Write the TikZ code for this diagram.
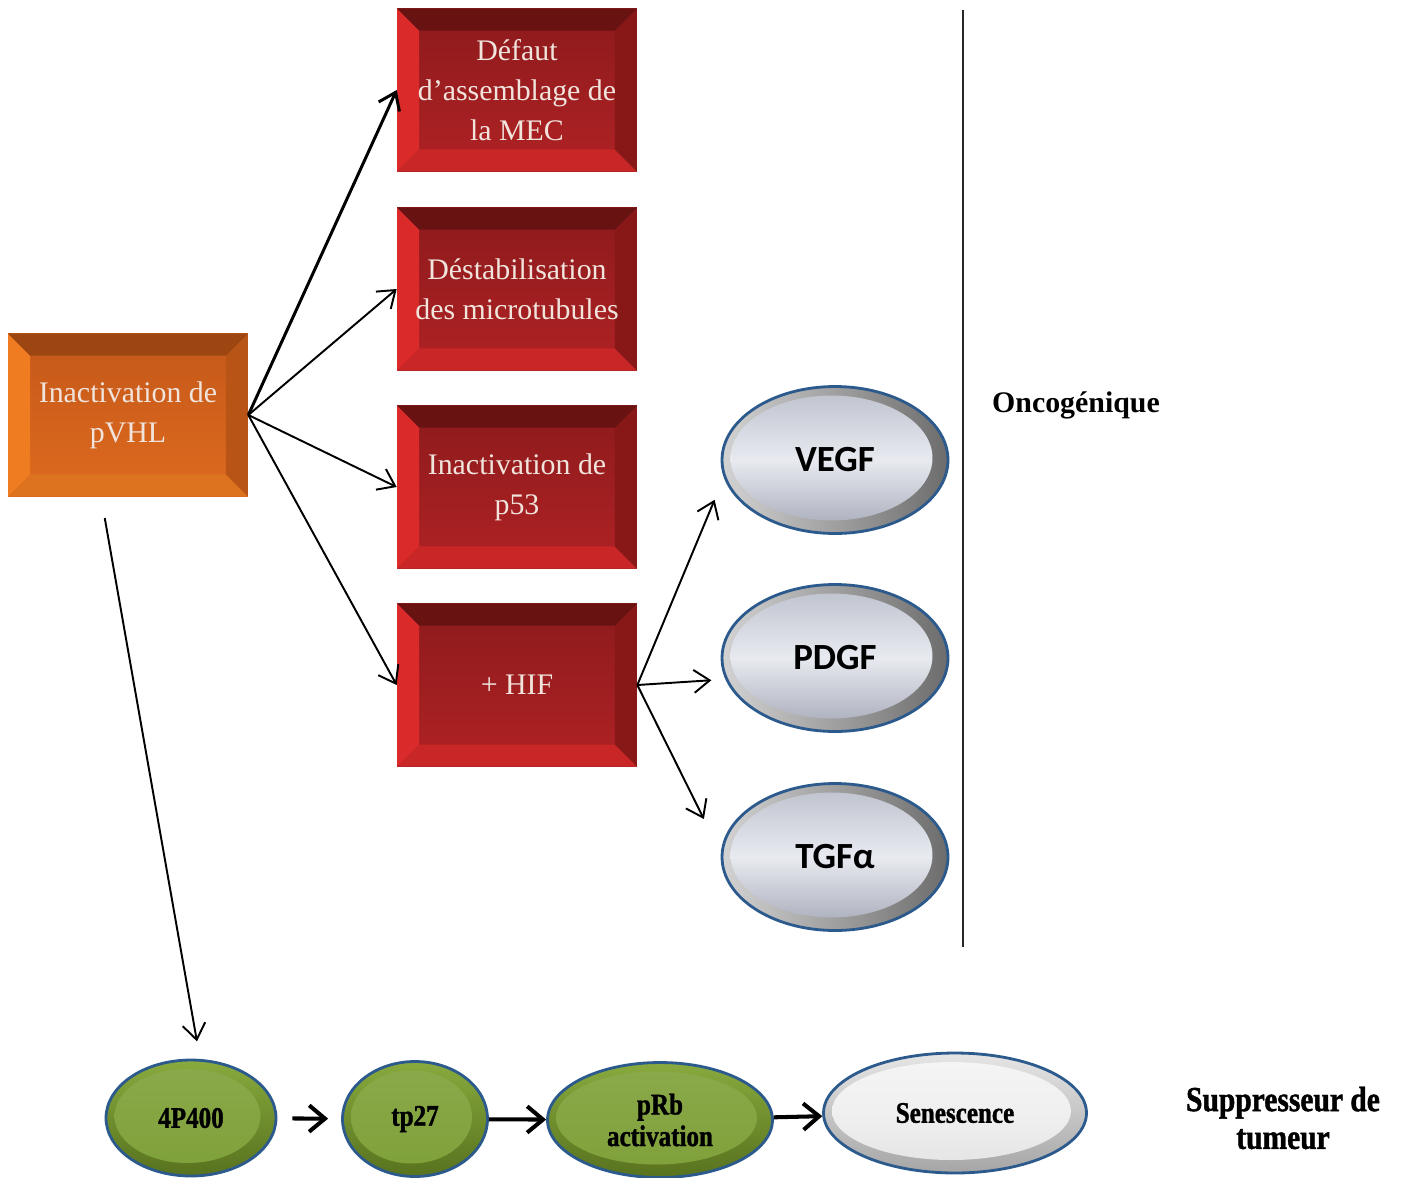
\documentclass[tikz,border=0pt]{standalone}
\usepackage{fontspec}
\setmainfont{Liberation Serif}
\newfontfamily\glassfont{Carlito}
\newfontfamily\condfont[FakeStretch=0.84,FakeBold=1.2]{Liberation Serif}
\usetikzlibrary{arrows.meta,shapes.geometric,calc}

\definecolor{redft}{RGB}{140,26,28}
\definecolor{redfb}{RGB}{176,34,36}
\definecolor{redtop}{RGB}{104,18,18}
\definecolor{redright}{RGB}{136,24,24}
\definecolor{redlight}{RGB}{218,42,42}
\definecolor{orft}{RGB}{196,88,26}
\definecolor{orfb}{RGB}{222,106,30}
\definecolor{ortop}{RGB}{158,70,18}
\definecolor{orright}{RGB}{184,84,22}
\definecolor{orlight}{RGB}{240,124,34}
\definecolor{rimblue}{RGB}{44,90,140}
\definecolor{olivedark}{RGB}{88,114,30}
\definecolor{olivelight}{RGB}{136,170,62}
\definecolor{oliveface}{RGB}{126,160,56}
\definecolor{silvertop}{RGB}{188,192,204}
\definecolor{silvermid}{RGB}{232,234,240}
\definecolor{silverbot}{RGB}{164,168,182}
\definecolor{boxtext}{RGB}{240,228,220}

\newcommand\bbx{path picture bounding box}
\newcommand\bev{0.44cm}

\tikzset{
  % bevelled box: face top, face bottom, top edge, right edge, left/bottom edge
  bevelbox/.style n args={5}{rectangle, minimum width=4.8cm, minimum height=3.26cm,
    inner sep=0pt, top color=#1, bottom color=#2, align=center, text=boxtext,
    font=\fontsize{17}{22.7}\selectfont,
    path picture={
      \fill[#5] (\bbx.north west) -- ([xshift=\bev,yshift=-\bev]\bbx.north west)
        -- ([xshift=\bev,yshift=\bev]\bbx.south west) -- (\bbx.south west) -- cycle;
      \fill[#5!92!black] (\bbx.south west) -- ([xshift=\bev,yshift=\bev]\bbx.south west)
        -- ([xshift=-\bev,yshift=\bev]\bbx.south east) -- (\bbx.south east) -- cycle;
      \fill[#4] (\bbx.south east) -- ([xshift=-\bev,yshift=\bev]\bbx.south east)
        -- ([xshift=-\bev,yshift=-\bev]\bbx.north east) -- (\bbx.north east) -- cycle;
      \fill[#3] (\bbx.north east) -- ([xshift=-\bev,yshift=-\bev]\bbx.north east)
        -- ([xshift=\bev,yshift=-\bev]\bbx.north west) -- (\bbx.north west) -- cycle;
    }},
  redbox/.style={bevelbox={redft}{redfb}{redtop}{redright}{redlight}},
  orangebox/.style={bevelbox={orft}{orfb}{ortop}{orright}{orlight}},
  % glossy ellipses
  inner glass/.style={path picture={
      \shade[#1] let \p1=(\bbx.north east), \p2=(\bbx.south west) in
        ([xshift=-0.07cm,yshift=0.04cm]\bbx.center)
        ellipse [x radius={(\x1-\x2)/2-0.24cm}, y radius={(\y1-\y2)/2-0.22cm}];
    }},
  silver/.style={ellipse, minimum width=4.52cm, minimum height=2.94cm, draw=rimblue,
    line width=1.6pt, left color=gray!35, right color=gray!85!black,
    inner glass={top color=silvertop, bottom color=silverbot, middle color=silvermid},
    font=\glassfont\bfseries\fontsize{21}{21}\selectfont},
  olive/.style={ellipse, draw=rimblue, line width=1.6pt, top color=olivelight,
    bottom color=olivedark, inner glass={top color=oliveface!90!white, bottom color=oliveface},
    align=center, font=\condfont\bfseries\fontsize{17}{18}\selectfont},
  pale/.style={ellipse, draw=rimblue, line width=1.6pt, top color=gray!20,
    bottom color=gray!70, inner glass={top color=gray!8, bottom color=gray!22, middle color=gray!12},
    font=\condfont\bfseries\fontsize{17}{18}\selectfont},
  arr/.style={-{Straight Barb[length=9pt,width=13pt]}, line width=1.1pt},
  fat/.style={-{Straight Barb[length=9pt,width=15pt]}, line width=2.3pt},
}

\begin{document}
\begin{tikzpicture}[x=0.02cm, y=-0.02cm]
\useasboundingbox (0,0) rectangle (1403,1177);

% starting box
\node[orangebox] (pvhl) at (128,415) {Inactivation de\\pVHL};

% oncogenic effects
\node[redbox] (mec) at (517,90) {Défaut\\d’assemblage de\\la MEC};
\node[redbox] (micro) at (517,289) {Déstabilisation\\des microtubules};
\node[redbox] (p53) at (517,487) {Inactivation de\\p53};
\node[redbox] (hif) at (517,685) {+ HIF};

% growth factors
\node[silver] (vegf) at (835,460) {VEGF};
\node[silver] (pdgf) at (835,658) {PDGF};
\node[silver] (tgf) at (835,857) {TGFα};

% divider and side labels
\draw[line width=1.1pt, black!85] (963,10) -- (963,947);
\node[font=\bfseries\fontsize{17}{17}\selectfont] (onco) at (1076,405) {Oncogénique};
\node[align=center, font=\condfont\bfseries\fontsize{20}{21.5}\selectfont] (supp) at (1283,1118) {Suppresseur de\\tumeur};

% tumour suppressor chain
\node[olive, minimum width=3.4cm, minimum height=2.32cm] (p400) at (191,1118) {4P400};
\node[olive, minimum width=2.9cm, minimum height=2.3cm] (tp27) at (415,1119) {tp27};
\node[olive, minimum width=4.5cm, minimum height=2.3cm] (prb) at (660,1120) {pRb\\activation};
\node[pale, minimum width=5.26cm, minimum height=2.4cm] (sen) at (955,1113) {Senescence};

% arrows from pVHL
\draw[arr, line width=1.7pt] (pvhl.east) -- (mec.west);
\foreach \t in {micro,p53,hif}
  \draw[arr] (pvhl.east) -- (\t.west);
\draw[arr, shorten <=0.43cm, shorten >=0.35cm] ([xshift=-0.54cm]pvhl.south) -- ([xshift=0.18cm]p400.north);

% arrows from HIF
\draw[arr, shorten >=0.48cm] (hif.east) -- (vegf.189);
\draw[arr, shorten >=0.28cm] (hif.east) -- (pdgf.191);
\draw[arr, shorten >=0.76cm] (hif.east) -- (tgf.178);

% chain arrows
\draw[fat, shorten <=0.3cm, shorten >=0.26cm] (p400) -- (tp27);
\draw[fat] (tp27) -- (prb);
\draw[fat] (prb) -- (sen);

\end{tikzpicture}
\end{document}
